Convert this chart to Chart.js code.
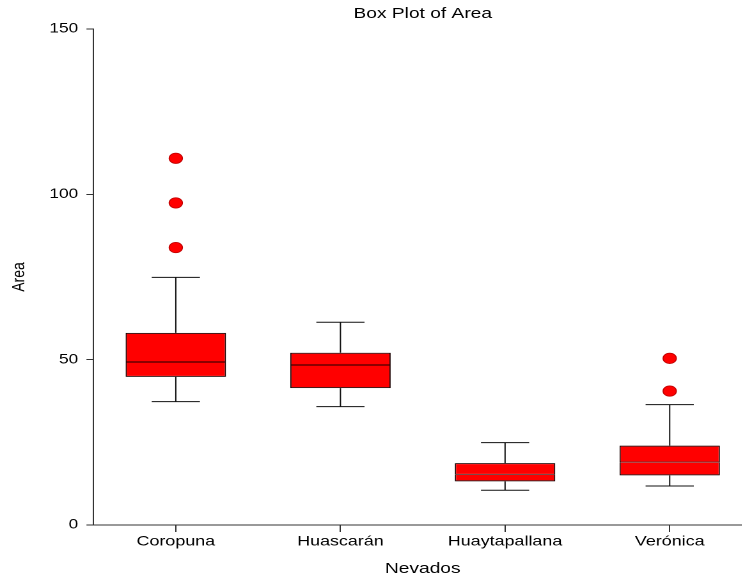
<!DOCTYPE html>
<html>
<head>
<meta charset="utf-8">
<script src="https://cdn.jsdelivr.net/npm/chart.js@4"></script>
<style>
  html, body { margin: 0; padding: 0; background: #fff; overflow: hidden; }
  #c { display: block; }
</style>
</head>
<body>
<canvas id="c" width="588" height="580" style="width:752px;height:580px;display:block"></canvas>
<script>
// ---- data ----
const categories   = ['Coropuna', 'Huascarán', 'Huaytapallana', 'Verónica'];
const lowerWhisker = [37.3, 35.8, 10.5, 11.8];
const q1           = [44.8, 41.4, 13.2, 15.0];
const median       = [49.3, 48.4, 15.3, 19.0];
const q3           = [58.1, 52.1, 18.7, 24.0];
const upperWhisker = [74.9, 61.3, 24.9, 36.4];
const outlierCategory = ['Coropuna', 'Coropuna', 'Coropuna', 'Verónica', 'Verónica'];
const outlierValues   = [110.9, 97.4, 83.9, 50.4, 40.5];
const yTicks = [0, 50, 100, 150];

const chartTitle = 'Box Plot of Area';
const xTitle = 'Nevados';
const yTitle = 'Area';

const FONT = '"Liberation Sans", Arial, Helvetica, sans-serif';
Chart.defaults.font.family = FONT;
Chart.defaults.color = '#000';

const lowerBox = categories.map((c, i) => [q1[i], median[i]]);
const upperBox = categories.map((c, i) => [median[i], q3[i]]);
const outlierPoints = outlierCategory.map((c, i) => ({ x: c, y: outlierValues[i] }));

const whiskerPlugin = {
  id: 'whiskers',
  beforeDatasetsDraw(chart) {
    const { ctx } = chart;
    const xs = chart.scales.x, ys = chart.scales.y;
    const meta = chart.getDatasetMeta(0);
    ctx.save();
    ctx.strokeStyle = '#111';
    ctx.lineWidth = 1;
    categories.forEach((c, i) => {
      const x = xs.getPixelForValue(i);
      const half = meta.data[i].width * 0.48 / 2;
      const yHi = ys.getPixelForValue(upperWhisker[i]);
      const yLo = ys.getPixelForValue(lowerWhisker[i]);
      const yQ3 = ys.getPixelForValue(q3[i]);
      const yQ1 = ys.getPixelForValue(q1[i]);
      ctx.beginPath();
      ctx.moveTo(x, yQ3); ctx.lineTo(x, yHi);
      ctx.moveTo(x, yQ1); ctx.lineTo(x, yLo);
      ctx.moveTo(x - half, yHi); ctx.lineTo(x + half, yHi);
      ctx.moveTo(x - half, yLo); ctx.lineTo(x + half, yLo);
      ctx.stroke();
    });
    ctx.restore();
  }
};

const titlePlugin = {
  id: 'centerTitle',
  afterDraw(chart) {
    const { ctx, chartArea } = chart;
    ctx.save();
    ctx.font = '15px ' + FONT;
    ctx.fillStyle = '#000';
    ctx.textAlign = 'center';
    ctx.textBaseline = 'alphabetic';
    ctx.fillText(chartTitle, (chartArea.left + chartArea.right) / 2, 18);
    ctx.restore();
  }
};

new Chart(document.getElementById('c'), {
  type: 'bar',
  data: {
    labels: categories,
    datasets: [
      {
        label: 'Q1-Median',
        data: lowerBox,
        backgroundColor: '#ff0000',
        borderColor: '#1a0000',
        borderWidth: { top: 0.5, bottom: 1, left: 1, right: 1 },
        borderSkipped: false,
        barPercentage: 0.61,
        categoryPercentage: 1.0,
        order: 2
      },
      {
        label: 'Median-Q3',
        data: upperBox,
        backgroundColor: '#ff0000',
        borderColor: '#1a0000',
        borderWidth: { top: 1, bottom: 0.5, left: 1, right: 1 },
        borderSkipped: false,
        barPercentage: 0.61,
        categoryPercentage: 1.0,
        order: 2
      },
      {
        type: 'line',
        label: 'Outliers',
        data: outlierPoints,
        showLine: false,
        pointStyle: 'circle',
        pointRadius: 5.2,
        pointBackgroundColor: '#ff0000',
        pointBorderColor: '#c00000',
        pointBorderWidth: 0.8,
        order: 1
      }
    ]
  },
  options: {
    responsive: false,
    animation: false,
    devicePixelRatio: 2,
    layout: { autoPadding: false, padding: { top: 29, left: 0, right: 0, bottom: 0 } },
    plugins: {
      legend: { display: false },
      tooltip: { enabled: false },
      title: { display: false }
    },
    scales: {
      x: {
        type: 'category',
        stacked: true,
        offset: true,
        grid: { drawOnChartArea: false, drawTicks: true, tickLength: 7, offset: false, color: '#333' },
        border: { display: true, color: '#333', width: 1 },
        ticks: { font: { size: 14 }, color: '#000', padding: 1, maxRotation: 0 },
        title: { display: true, text: xTitle, font: { size: 15 }, color: '#000', padding: { top: 0, bottom: 2 } },
        afterFit(s) { s.height = 55; }
      },
      y: {
        stacked: false,
        min: 0,
        max: 150,
        afterBuildTicks(s) { s.ticks = yTicks.map(v => ({ value: v })); },
        grid: { drawOnChartArea: false, drawTicks: true, tickLength: 5.5, color: '#333' },
        border: { display: true, color: '#333', width: 1 },
        ticks: { font: { size: 13.5 }, color: '#000', padding: 6.5 },
        title: { display: true, text: yTitle, font: { size: 14 }, color: '#000', padding: { top: 6.5, bottom: 0 } },
        afterFit(s) { s.width = 73.1; }
      }
    }
  },
  plugins: [whiskerPlugin, titlePlugin]
});
</script>
</body>
</html>
